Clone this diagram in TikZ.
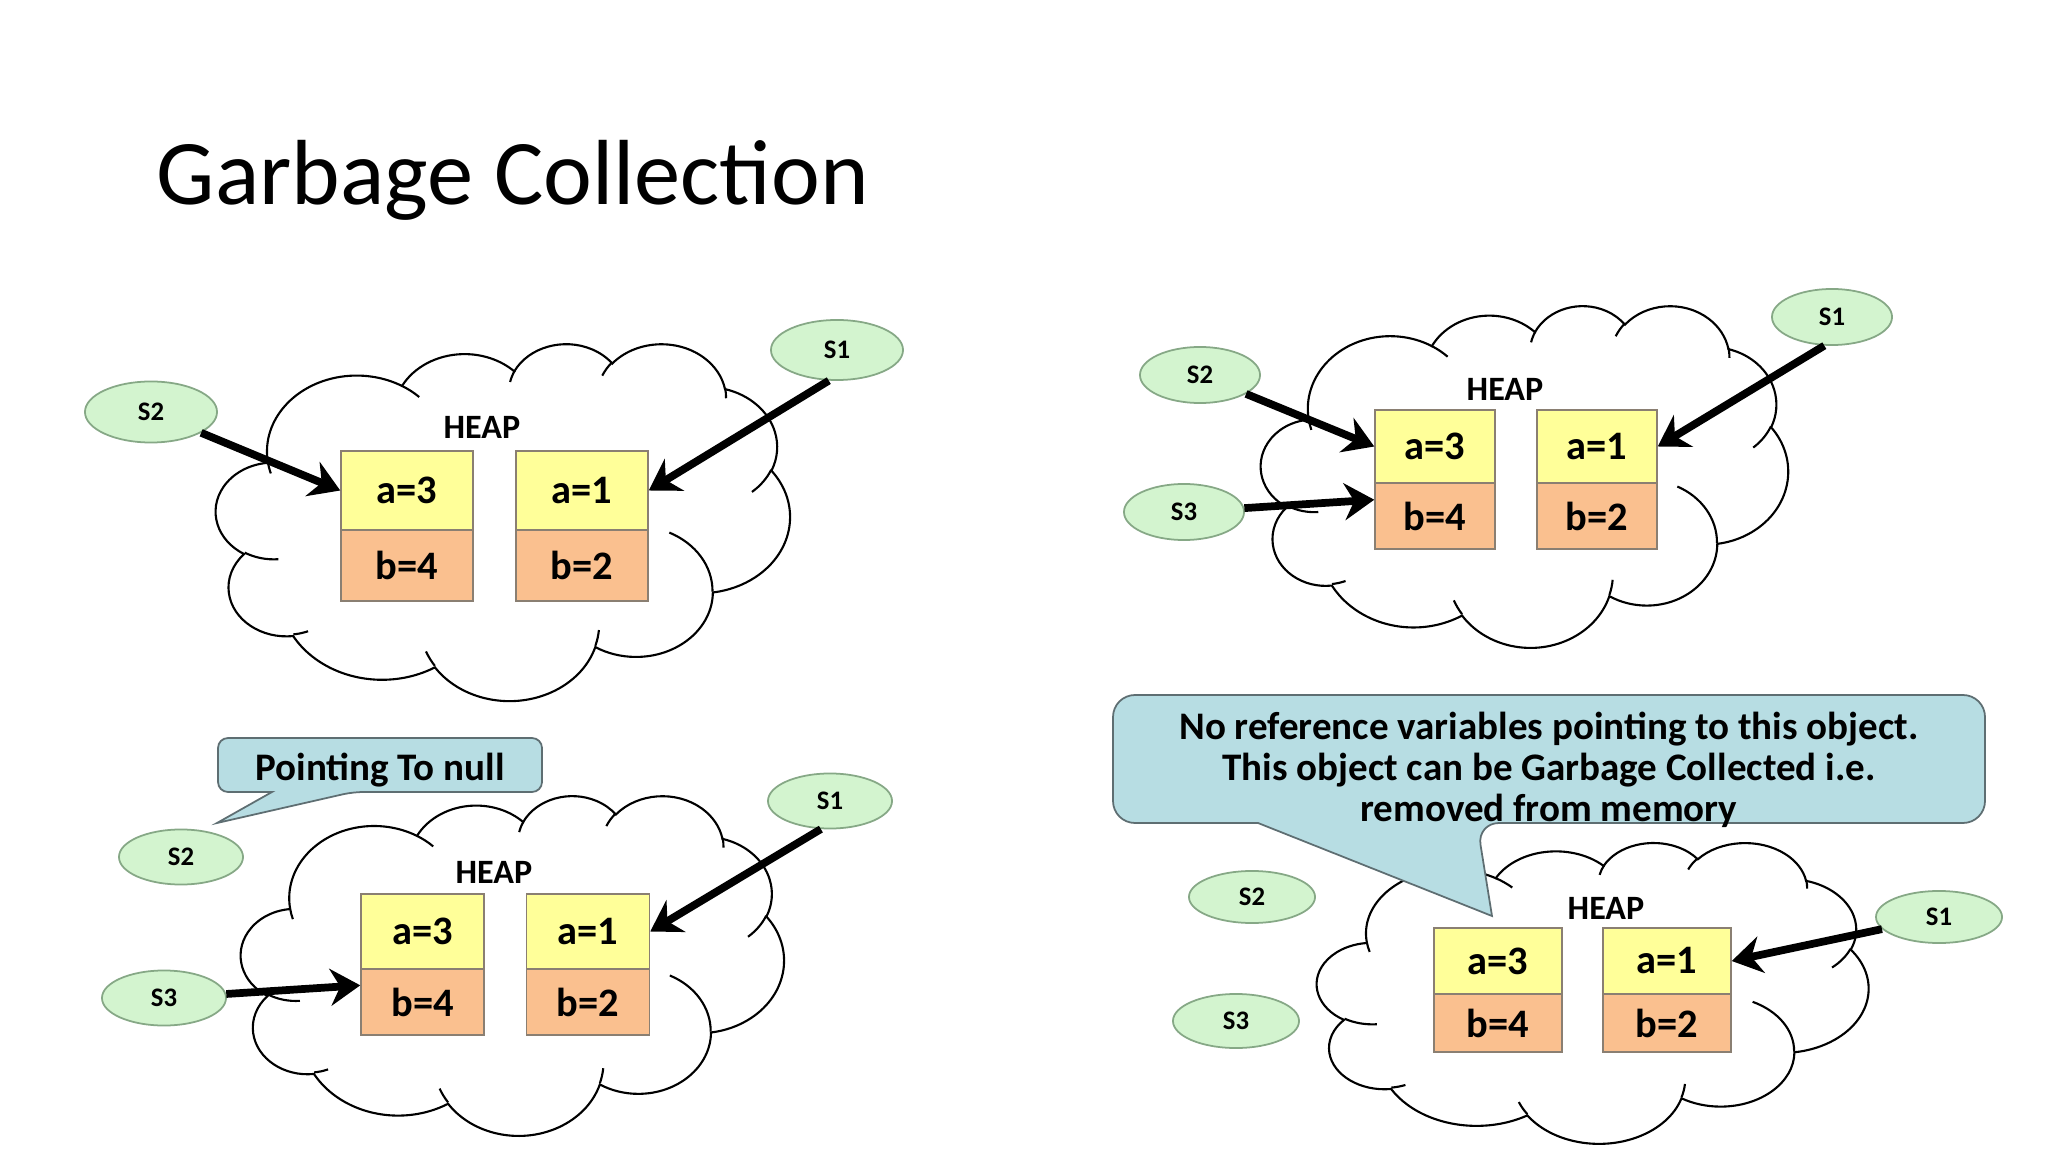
\documentclass[tikz,border=0pt]{standalone}
\usepackage{fontspec}
\setmainfont{Carlito}
\usetikzlibrary{shapes.geometric,arrows.meta}
\definecolor{cellA}{HTML}{FFFF99}
\definecolor{cellB}{HTML}{FAC08F}
\definecolor{cellLine}{HTML}{8A7F72}
\definecolor{refFill}{HTML}{D3F4CF}
\definecolor{refLine}{HTML}{86A886}
\definecolor{noteFill}{HTML}{B7DDE3}
\definecolor{noteLine}{HTML}{5E6E72}
\newcommand{\gcTitle}{\fontsize{26.3}{30}\selectfont}
\newcommand{\gcCell}{\fontsize{11.5}{13}\selectfont\bfseries}
\newcommand{\gcHeap}{\fontsize{9.7}{11}\selectfont\bfseries}
\newcommand{\gcRef}{\fontsize{7.6}{9}\selectfont\bfseries}
\newcommand{\gcNote}{\fontsize{11.1}{11.6}\selectfont\bfseries}
\tikzset{
 cloudline/.style={draw=black, line width=0.6pt},
 acell/.style={draw=cellLine, line width=0.4pt, fill=cellA, inner sep=0pt, font=\gcCell},
 bcell/.style={draw=cellLine, line width=0.4pt, fill=cellB, inner sep=0pt, font=\gcCell},
 refnode/.style={ellipse, draw=refLine, line width=0.5pt, fill=refFill, inner sep=0pt, font=\gcRef},
 heaplabel/.style={inner sep=0pt, font=\gcHeap},
 ptr/.style={line width=2.2pt, -{Stealth[length=8.5pt, width=10.5pt, inset=2.8pt]}},
 note/.style={draw=noteLine, line width=0.5pt, fill=noteFill},
 notetext/.style={inner sep=0pt, font=\gcNote, align=center},
}
\newcommand{\gcCloud}[4]{%
  \pgfmathsetmacro\gcSx{#3/432}%
  \pgfmathsetmacro\gcSy{#4/432}%
  \begin{scope}[shift={(#1,#2)}, x=1cm, y=1cm, scale=0.01, xscale=\gcSx, yscale=-\gcSy]
  \draw[cloudline] (39.00,143.70)
    arc[start angle=172.256, delta angle=128.109, x radius=67.53, y radius=91.90]
    arc[start angle=-152.028, delta angle=106.603, x radius=53.33, y radius=72.67]
    arc[start angle=-153.486, delta angle=116.161, x radius=43.65, y radius=59.45]
    arc[start angle=-139.710, delta angle=129.498, x radius=48.57, y radius=65.95]
    arc[start angle=-74.768, delta angle=97.978, x radius=53.33, y radius=72.73]
    arc[start angle=-37.520, delta angle=119.382, x radius=67.75, y radius=92.20]
    arc[start angle=0.460, delta angle=121.520, x radius=57.85, y radius=78.67]
    arc[start angle=16.844, delta angle=129.380, x radius=67.52, y radius=92.15]
    arc[start angle=58.984, delta angle=91.189, x radius=77.20, y radius=105.43]
    arc[start angle=-276.694, delta angle=139.812, x radius=43.60, y radius=59.18]
    arc[start angle=-239.640, delta angle=143.753, x radius=43.45, y radius=59.45]
    -- cycle;
  \draw[cloudline] (46.93,261.77) arc[start angle=85.547, delta angle=34.813, x radius=43.45, y radius=59.45]
    (69.28,348.99) arc[start angle=68.237, delta angle=15.069, x radius=43.60, y radius=59.18]
    (164.78,390.90) arc[start angle=146.224, delta angle=12.250, x radius=67.52, y radius=92.15]
    (288.27,347.51) arc[start angle=4.738, delta angle=12.106, x radius=67.52, y radius=92.15]
    (341.29,229.54) arc[start angle=-64.026, delta angle=64.486, x radius=57.85, y radius=78.67]
    (417.98,153.54) arc[start angle=23.210, delta angle=26.432, x radius=53.33, y radius=72.73]
    (383.24,54.26) arc[start angle=-10.212, delta angle=11.033, x radius=48.57, y radius=65.95]
    (290.78,39.52) arc[start angle=-156.282, delta angle=16.572, x radius=48.57, y radius=65.95]
    (221.41,47.20) arc[start angle=-167.727, delta angle=14.241, x radius=43.65, y radius=59.45]
    (140.00,51.92) arc[start angle=-59.635, delta angle=13.883, x radius=67.53, y radius=91.90]
    (41.27,157.89) arc[start angle=163.197, delta angle=9.057, x radius=67.53, y radius=91.90];
  \end{scope}}
\begin{document}
\begin{tikzpicture}[x=0.01cm, y=-0.01cm]
\fill[white] (0,0) rectangle (2048,1152);
\useasboundingbox (0,0) rectangle (2048,1152);
\node[anchor=base west, inner sep=0pt, font=\gcTitle] (title) at (156,205) {Garbage Collection};

% clouds
\gcCloud{216}{343}{574}{357}
\gcCloud{1261}{305}{527}{342}
\gcCloud{241}{795}{543}{340}
\gcCloud{1317}{842}{552}{301}

% callouts
\draw[note, rounded corners=0.1cm] (380,738) -- (542,738) -- (542,792) -- (353,792) [sharp corners] -- (217,823) -- (272,792) [rounded corners=0.1cm] -- (218,792) -- (218,738) -- cycle;
\draw[note, rounded corners=0.22cm] (1549,695) -- (1985,695) -- (1985,823) -- (1477,823) [sharp corners] -- (1492,916) -- (1258,823) [rounded corners=0.22cm] -- (1113,823) -- (1113,695) -- cycle;
\node[notetext] (p3note) at (380,770) {Pointing To null};
\node[notetext] (p4note) at (1549,770) {No reference variables pointing to this object.\\This object can be Garbage Collected i.e.\\removed from memory};

% panel 1
\node[acell, minimum width=1.32cm, minimum height=0.79cm] (p1a3) at (407,490.5) {a=3};
\node[bcell, minimum width=1.32cm, minimum height=0.71cm] (p1b4) at (407,565.5) {b=4};
\node[acell, minimum width=1.32cm, minimum height=0.79cm] (p1a1) at (582,490.5) {a=1};
\node[bcell, minimum width=1.32cm, minimum height=0.71cm] (p1b2) at (582,565.5) {b=2};
\node[heaplabel] (p1heap) at (482,427) {HEAP};
\node[refnode, minimum width=1.32cm, minimum height=0.61cm] (p1s2) at (151,412) {S2};
\node[refnode, minimum width=1.32cm, minimum height=0.60cm] (p1s1) at (837,350) {S1};
\draw[ptr] (p1s2) -- (p1a3.west);
\draw[ptr] (p1s1.255) -- (p1a1.east);

% panel 2
\node[acell, minimum width=1.20cm, minimum height=0.73cm] (p2a3) at (1435,446.5) {a=3};
\node[bcell, minimum width=1.20cm, minimum height=0.66cm] (p2b4) at (1435,516) {b=4};
\node[acell, minimum width=1.20cm, minimum height=0.73cm] (p2a1) at (1597,446.5) {a=1};
\node[bcell, minimum width=1.20cm, minimum height=0.66cm] (p2b2) at (1597,516) {b=2};
\node[heaplabel] (p2heap) at (1505,389) {HEAP};
\node[refnode, minimum width=1.20cm, minimum height=0.56cm] (p2s2) at (1200,375) {S2};
\node[refnode, minimum width=1.20cm, minimum height=0.56cm] (p2s3) at (1184,512) {S3};
\node[refnode, minimum width=1.20cm, minimum height=0.56cm] (p2s1) at (1832,317) {S1};
\draw[ptr] (p2s2) -- (p2a3.west);
\draw[ptr] (p2s3) -- (p2b4.165);
\draw[ptr] (p2s1.255) -- (p2a1.east);

% panel 3
\node[acell, minimum width=1.23cm, minimum height=0.75cm] (p3a3) at (422.5,931.5) {a=3};
\node[bcell, minimum width=1.23cm, minimum height=0.66cm] (p3b4) at (422.5,1002) {b=4};
\node[acell, minimum width=1.23cm, minimum height=0.75cm] (p3a1) at (588,931.5) {a=1};
\node[bcell, minimum width=1.23cm, minimum height=0.66cm] (p3b2) at (588,1002) {b=2};
\node[heaplabel] (p3heap) at (494,872) {HEAP};
\node[refnode, minimum width=1.24cm, minimum height=0.55cm] (p3s2) at (181,857) {S2};
\node[refnode, minimum width=1.24cm, minimum height=0.55cm] (p3s3) at (164,998) {S3};
\node[refnode, minimum width=1.24cm, minimum height=0.55cm] (p3s1) at (830,801) {S1};
\draw[ptr] (p3s3) -- (p3b4.165);
\draw[ptr] (p3s1.252) -- (p3a1.east);

% panel 4
\node[acell, minimum width=1.28cm, minimum height=0.66cm] (p4a3) at (1498,961) {a=3};
\node[bcell, minimum width=1.28cm, minimum height=0.58cm] (p4b4) at (1498,1023) {b=4};
\node[acell, minimum width=1.28cm, minimum height=0.66cm] (p4a1) at (1667,961) {a=1};
\node[bcell, minimum width=1.28cm, minimum height=0.58cm] (p4b2) at (1667,1023) {b=2};
\node[heaplabel] (p4heap) at (1606,908) {HEAP};
\node[refnode, minimum width=1.26cm, minimum height=0.52cm] (p4s2) at (1252,897) {S2};
\node[refnode, minimum width=1.26cm, minimum height=0.54cm] (p4s3) at (1236,1021) {S3};
\node[refnode, minimum width=1.26cm, minimum height=0.52cm] (p4s1) at (1939,917) {S1};
\draw[ptr] (p4s1) -- (p4a1.east);
\end{tikzpicture}
\end{document}
